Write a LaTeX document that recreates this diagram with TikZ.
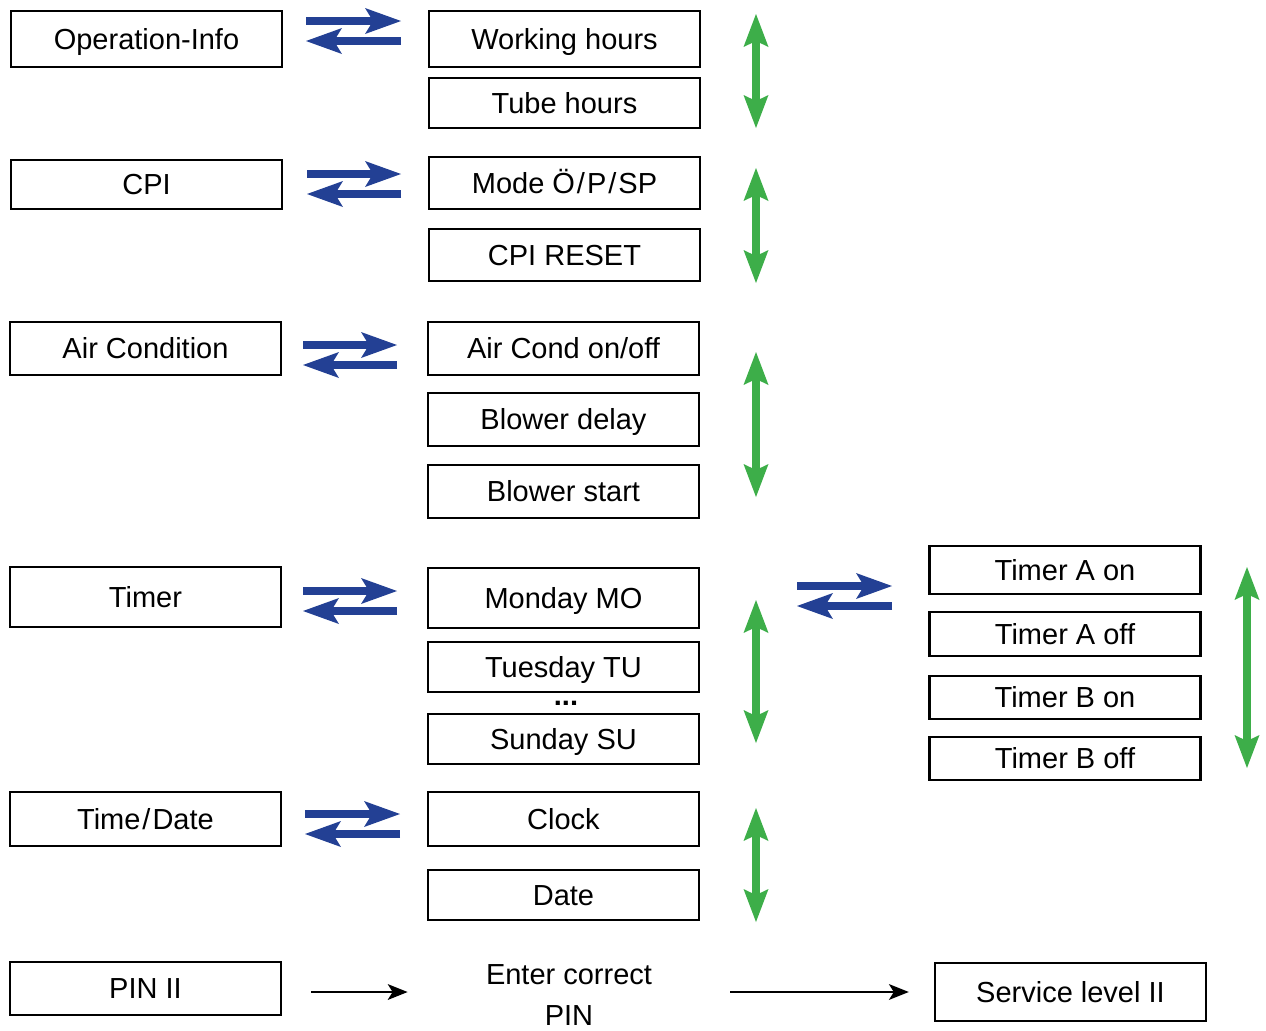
\documentclass[tikz,border=0pt]{standalone}
\usepackage{fontspec}
\setmainfont{Liberation Sans}
\usetikzlibrary{arrows.meta}
\definecolor{swapblue}{RGB}{35,64,148}
\definecolor{scrollgreen}{RGB}{61,174,73}

\begin{document}
\begin{tikzpicture}[x=0.5pt, y=-0.5pt, font=\fontsize{14.5}{17}\selectfont]

    \tikzstyle{menu}=[draw, line width=1.2pt, minimum width=135.5pt, inner sep=0pt, text height=10.4pt, text depth=0pt];
    \tikzstyle{swap}=[draw=swapblue, line width=4pt, -{Stealth[length=18pt, width=13pt, inset=4pt, line width=0pt]}];
    \tikzstyle{scroll}=[draw=scrollgreen, line width=4pt, {Stealth[length=16.5pt, width=12.5pt, inset=3pt, line width=0pt]}-{Stealth[length=16.5pt, width=12.5pt, inset=3pt, line width=0pt]}];
    \tikzstyle{flow}=[draw, line width=1.3pt, -{Stealth[length=10pt, width=8pt, inset=2.5pt, line width=0pt]}];

    \useasboundingbox (0,0) rectangle (1266,1030);

    % main menu
    \node [menu, minimum height=28pt](opinfo) at (146.5,39){Operation-Info};
    \node [menu, minimum height=24.5pt](cpi) at (146.5,184.5){CPI};
    \node [menu, minimum height=26.5pt](aircon) at (145.5,348.5){Air Condition};
    \node [menu, minimum height=30pt](timer) at (145.5,597){Timer};
    \node [menu, minimum height=27pt](timedate) at (145.5,819){Time\kern1pt/\kern1ptDate};
    \node [menu, minimum height=26.5pt](pin) at (145.5,988.5){PIN II};

    % sub menus
    \node [menu, minimum height=28pt](working) at (564.5,39){Working hours};
    \node [menu, minimum height=25pt](tube) at (564.5,103){Tube hours};
    \node [menu, minimum height=26pt](mode) at (564.5,183){Mode Ö\kern1pt/\kern1ptP\kern1pt/\kern1ptSP};
    \node [menu, minimum height=26pt](cpireset) at (564.5,255){CPI RESET};
    \node [menu, minimum height=26.5pt](aironoff) at (563.5,348.5){Air Cond on/off};
    \node [menu, minimum height=26.5pt](blowdelay) at (563.5,419.5){Blower delay};
    \node [menu, minimum height=26.5pt](blowstart) at (563.5,491.5){Blower start};
    \node [menu, minimum height=30pt](monday) at (563.5,598){Monday MO};
    \node [menu, minimum height=25pt](tuesday) at (563.5,667){Tuesday TU};
    \node (dots) at (566,703){\textbf{...}};
    \node [menu, minimum height=25pt](sunday) at (563.5,739){Sunday SU};
    \node [menu, minimum height=27pt](clock) at (563.5,819){Clock};
    \node [menu, minimum height=25pt](date) at (563.5,895){Date};

    % timer settings
    \node [menu, minimum height=24pt](aon) at (1065,570){Timer A on};
    \node [menu, minimum height=22pt](aoff) at (1065,634){Timer A off};
    \node [menu, minimum height=21.5pt](bon) at (1065,697.5){Timer B on};
    \node [menu, minimum height=21.5pt](boff) at (1065,758.5){Timer B off};

    % service level
    \node [minimum width=150pt, inner sep=0pt, align=center, font=\fontsize{14.5}{20.5}\selectfont](enter) at (569,995){Enter correct\\PIN};
    \node [menu, minimum height=29pt](service) at (1070.5,992){Service level II};

    \draw [flow, shorten <=14.5pt, shorten >=5.5pt] (pin.east |- service.west) to (enter.west |- service.west);
    \draw [flow, shorten <=5.5pt, shorten >=12.5pt] (enter.east |- service.west) to (service.west);

    % enter / leave
    \foreach \x/\y/\l in {306/31/95, 307/184/94, 303/355/94, 303/601/94, 305/824/95, 797/596/95} {
        \draw [swap] (\x,\y-10) -- (\x+\l,\y-10);
        \draw [swap] (\x+\l,\y+10) -- (\x,\y+10);
    }

    % scroll
    \foreach \x/\a/\b in {756/14/128, 756/168/283, 756/352/497, 756/600/743, 756/808/922, 1247/567/768}
        \draw [scroll] (\x,\a) -- (\x,\b);

\end{tikzpicture}
\end{document}
